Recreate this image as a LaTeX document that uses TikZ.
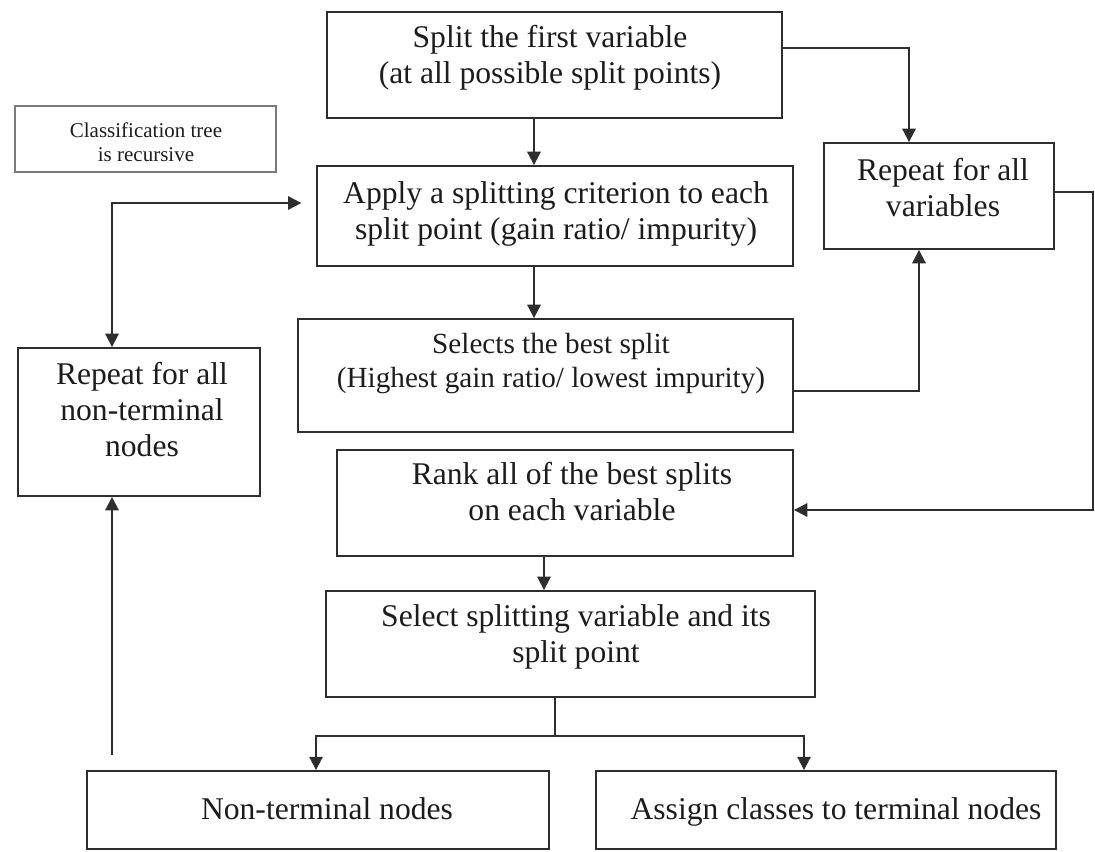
\documentclass[tikz,border=0pt]{standalone}
\usepackage{fontspec}
\setmainfont{Liberation Serif}
\usetikzlibrary{arrows.meta}
\definecolor{linegray}{HTML}{2E2E2E}
\definecolor{inkgray}{HTML}{1C1C1C}
\definecolor{notegray}{HTML}{7A7A7A}
\begin{document}
\begin{tikzpicture}[x=0.75pt,y=-0.75pt,
  box/.style 2 args={draw=linegray, line width=1.4pt, rectangle, inner sep=0pt,
    minimum width=#1*0.75pt, minimum height=#2*0.75pt},
  notebox/.style 2 args={draw=notegray, line width=0.8pt, rectangle, inner sep=0pt,
    minimum width=#1*0.75pt, minimum height=#2*0.75pt},
  lbl/.style={align=center, inner sep=0pt, text=inkgray,
    font=\fontsize{23.7pt}{27pt}\selectfont},
  lblsm/.style={align=center, inner sep=0pt, text=inkgray,
    font=\fontsize{21.9pt}{25.5pt}\selectfont},
  note/.style={align=center, inner sep=0pt, text=inkgray,
    font=\fontsize{15.75pt}{18pt}\selectfont},
  link/.style={draw=linegray, line width=1.4pt},
  arr/.style={link, -{Triangle[length=10pt,width=10pt]}},
  twoway/.style={link, {Triangle[length=10pt,width=10pt]}-{Triangle[length=10pt,width=10pt]}}
]
\useasboundingbox (0,0) rectangle (1095,851);

% boxes and their texts
\node[box={455}{106}] (b1) at (554.5,65) {};
\node[lbl] (t1) at (550,58) {Split the first variable\\(at all possible split points)};

\node[notebox={261}{66}] (nb) at (145.5,139) {};
\node[note] (tn) at (146,142) {Classification tree\\is recursive};

\node[box={476}{100}] (b3) at (555,216) {};
\node[lbl] (t3) at (556,214) {Apply a splitting criterion to each\\split point (gain ratio/ impurity)};

\node[box={230}{106}] (b4) at (939,196) {};
\node[lbl] (t4) at (943,188) {Repeat for all\\variables};

\node[box={242}{148}] (b5) at (139,422) {};
\node[lbl] (t5) at (142,410) {Repeat for all\\non-terminal\\nodes};

\node[box={495}{113}] (b6) at (545.5,375.5) {};
\node[lblsm] (t6) at (551,364) {Selects the best split\\(Highest gain ratio/ lowest impurity)};

\node[box={456}{106}] (b7) at (565,503) {};
\node[lbl] (t7) at (572,492) {Rank all of the best splits\\on each variable};

\node[box={489}{106}] (b8) at (570.5,644) {};
\node[lbl] (t8) at (576,637) {Select splitting variable and its\\split point};

\node[box={462}{78}] (b9) at (318,810) {};
\node[lbl,anchor=base] (t9) at (327,819) {Non-terminal nodes};

\node[box={460}{78}] (b10) at (826,810) {};
\node[lbl,anchor=base] (t10) at (836,819) {Assign classes to terminal nodes};

% routing points
\coordinate (k0) at (534,0);
\coordinate (k1) at (909,48);
\coordinate (k2) at (919,391);
\coordinate (k3) at (1093,192);
\coordinate (k4) at (1093,510);
\coordinate (k5) at (112,203);
\coordinate (k6) at (112,755);
\coordinate (k7) at (544,0);
\coordinate (k8) at (555,736);
\coordinate (k9) at (316,736);
\coordinate (k10) at (804,736);

% connectors
\draw[arr] (b1.south -| k0) -- (b3.north -| k0);
\draw[arr] (b3.south -| k0) -- (b6.north -| k0);
\draw[arr] (b1.east |- k1) -| (b4.north -| k1);
\draw[arr] (b6.east |- k2) -| (b4.south -| k2);
\draw[arr] (b4.east |- k3) -- (k3) -- (k4) -- (b7.east |- k4);
\draw[twoway, shorten >=11pt] (b5.north -| k5) -- (k5) -- (b3.west |- k5);
\draw[arr] (k6) -- (b5.south -| k6);
\draw[arr] (b7.south -| k7) -- (b8.north -| k7);
\draw[link] (b8.south -| k8) -- (k8);
\draw[arr] (k8) -| (b9.north -| k9);
\draw[arr] (k8) -| (b10.north -| k10);
\end{tikzpicture}
\end{document}
